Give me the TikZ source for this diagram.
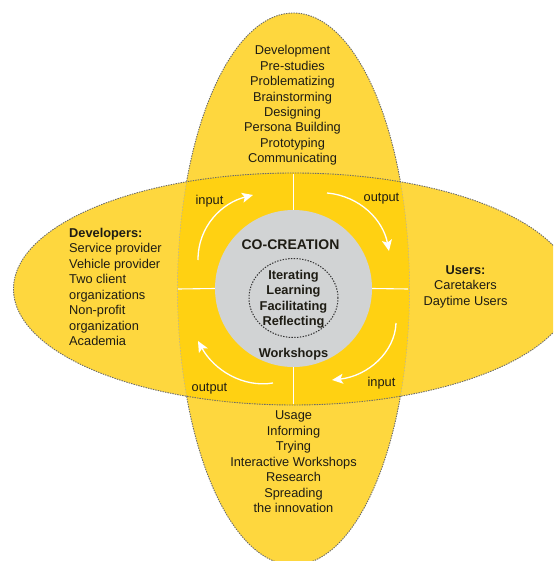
\documentclass[tikz,border=0pt]{standalone}
\usepackage{fontspec}
\setmainfont{Liberation Sans}
\usetikzlibrary{arrows.meta,shapes.geometric}
\definecolor{petal}{RGB}{254,215,62}
\definecolor{overlap}{RGB}{255,209,18}
\definecolor{hub}{RGB}{209,211,212}
\definecolor{ink}{RGB}{30,28,20}
\tikzset{
  x=1pt,y=-1pt,
  edge/.style={draw=black!58,line width=.9pt,dash pattern=on 1.4pt off 1.1pt},
  faint/.style={draw=black!32,line width=.5pt,dash pattern=on 1.5pt off 1.5pt},
  divider/.style={draw=white,line width=1.1pt},
  flow/.style={draw=white,line width=1.3pt,-{Stealth[length=11pt,width=10pt,inset=2.5pt]}},
  lbl/.style={font=\fontsize{12.8}{15.45}\selectfont,text=ink,align=center,inner sep=0pt},
  side/.style={lbl,align=left},
  head/.style={lbl,font=\fontsize{12.8}{15.45}\selectfont\bfseries},
}
\begin{document}
\begin{tikzpicture}
\clip (0,0) rectangle (553,561);
% petals
\fill[petal] (293.5,289) ellipse [x radius=116,y radius=276];
\fill[petal] (293.5,289) ellipse [x radius=280,y radius=116];
\begin{scope}
  \clip (293.5,289) ellipse [x radius=116,y radius=276];
  \fill[overlap] (293.5,289) ellipse [x radius=280,y radius=116];
  \path[edge] (293.5,289) ellipse [x radius=280,y radius=116];
\end{scope}
\begin{scope}
  \clip (293.5,289) ellipse [x radius=280,y radius=116];
  \path[faint] (293.5,289) ellipse [x radius=116,y radius=276];
\end{scope}
\begin{scope}[even odd rule]
  \clip (293.5,289) ellipse [x radius=280,y radius=116] (0,0) rectangle (553,561);
  \path[edge] (293.5,289) ellipse [x radius=116,y radius=276];
\end{scope}
\begin{scope}[even odd rule]
  \clip (293.5,289) ellipse [x radius=116,y radius=276] (0,0) rectangle (553,561);
  \path[edge] (293.5,289) ellipse [x radius=280,y radius=116];
\end{scope}
% hub
\node[circle,fill=hub,minimum size=157pt,inner sep=0pt] (hub) at (293.5,288.5) {};
\coordinate (nN) at (293.5,174.5);
\coordinate (nS) at (293.5,404);
\coordinate (nW) at (178,289);
\coordinate (nE) at (408,289);
\draw[divider] (nN) -- (hub.north);
\draw[divider] (hub.south) -- (nS);
\draw[divider] (nW) -- (hub.west);
\draw[divider] (hub.east) -- (nE);
\node[draw=black!80,line width=1pt,dash pattern=on 1.4pt off 1.4pt,ellipse,minimum width=89pt,minimum height=79pt,inner sep=0pt] (core) at (293.5,298) {};
% flow arrows
\coordinate (a1) at (198,260); \coordinate (a2) at (253,195);
\coordinate (b1) at (327,193); \coordinate (b2) at (389,251);
\coordinate (c1) at (396,323); \coordinate (c2) at (332,380);
\coordinate (d1) at (273,383); \coordinate (d2) at (198,341);
\draw[flow] (a1) .. controls (198,226) and (222,203) .. (a2);
\draw[flow] (b1) .. controls (360,196) and (383,220) .. (b2);
\draw[flow] (c1) .. controls (395,352) and (368,376) .. (c2);
\draw[flow] (d1) .. controls (243,388) and (214,370) .. (d2);
% labels
\node[lbl] (tIn1) at (209.5,201.5) {input};
\node[lbl] (tOut1) at (381.5,199) {output};
\node[lbl] (tIn2) at (381.5,383) {input};
\node[lbl] (tOut2) at (209.5,389) {output};
\node[lbl] (top) at (292.5,105.5) {Development\\Pre-studies\\Problematizing\\Brainstorming\\Designing\\Persona Building\\Prototyping\\Communicating};
\node[lbl] (bottom) at (293.5,462) {Usage\\Informing\\Trying\\Interactive Workshops\\Research\\Spreading\\the innovation};
\node[side,anchor=west] (dev) at (69,286.8) {\textbf{Developers:}\\Service provider\\Vehicle provider\\Two client\\organizations\\Non-profit\\organization\\Academia};
\node[lbl] (users) at (465.5,286.5) {\textbf{Users:}\\Caretakers\\Daytime Users};
\node[head,font=\fontsize{14}{15}\selectfont\bfseries] (title) at (290.5,244.5) {CO-CREATION};
\node[head] (inner) at (293.5,299) {Iterating\\Learning\\Facilitating\\Reflecting};
\node[head] (ws) at (293.5,354.5) {Workshops};
\end{tikzpicture}
\end{document}
